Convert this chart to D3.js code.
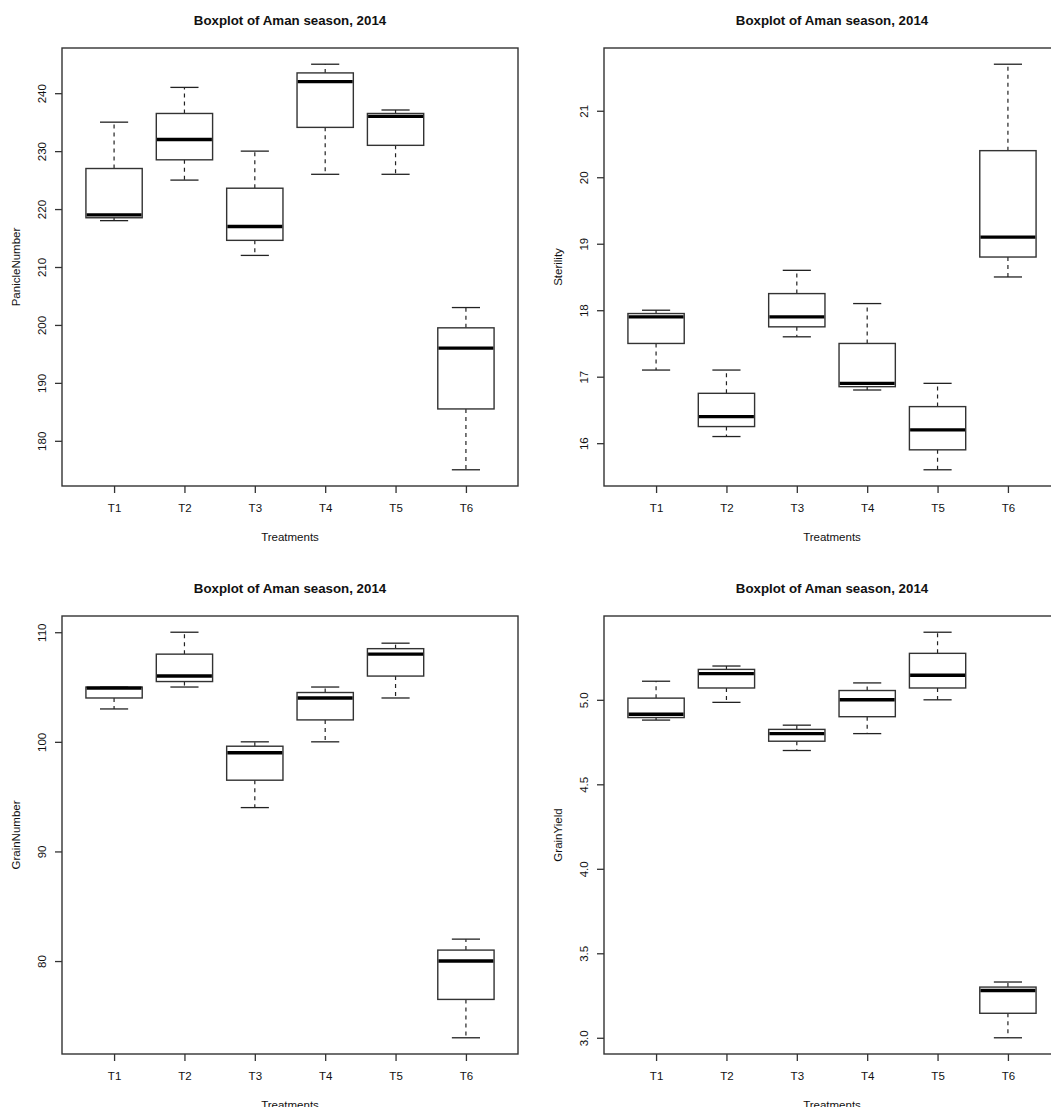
<!DOCTYPE html>
<html>
<head>
<meta charset="utf-8">
<script src="https://cdn.jsdelivr.net/npm/d3@7"></script>
<style>
  html, body { margin: 0; padding: 0; background: #fff; }
  svg { display: block; font-family: "Liberation Sans", Arial, sans-serif; }
</style>
</head>
<body>
<svg id="chart" width="1051" height="1107"></svg>
<script>
// ---- data: each box is [min, q1, median, q3, max] ----
const categories = ["T1", "T2", "T3", "T4", "T5", "T6"];

const panicleNumber = [
  [218, 218.5, 219, 227, 235],
  [225, 228.5, 232, 236.5, 241],
  [212, 214.6, 217, 223.6, 230],
  [226, 234.1, 242, 243.5, 245],
  [226, 231, 236, 236.5, 237.1],
  [175, 185.5, 196, 199.5, 203]
];
const sterility = [
  [17.1, 17.5, 17.9, 17.95, 18.0],
  [16.1, 16.25, 16.4, 16.75, 17.1],
  [17.6, 17.75, 17.9, 18.25, 18.6],
  [16.8, 16.85, 16.9, 17.5, 18.1],
  [15.6, 15.9, 16.2, 16.55, 16.9],
  [18.5, 18.8, 19.1, 20.4, 21.7]
];
const grainNumber = [
  [103, 104, 104.9, 105, 105],
  [105, 105.5, 106, 108, 110],
  [94, 96.5, 99, 99.6, 100],
  [100, 102, 104, 104.5, 105],
  [104, 106, 108, 108.5, 109],
  [73, 76.5, 80, 81, 82]
];
const grainYield = [
  [4.88, 4.895, 4.915, 5.01, 5.11],
  [4.985, 5.07, 5.155, 5.18, 5.2],
  [4.7, 4.755, 4.8, 4.825, 4.85],
  [4.8, 4.9, 5.0, 5.055, 5.1],
  [5.0, 5.07, 5.145, 5.275, 5.4],
  [3.0, 3.145, 3.28, 3.3, 3.33]
];

const panicleTicks = [180, 190, 200, 210, 220, 230, 240];
const sterilityTicks = [16, 17, 18, 19, 20, 21];
const grainNumberTicks = [80, 90, 100, 110];
const grainYieldTicks = [3.0, 3.5, 4.0, 4.5, 5.0];

const titleText = "Boxplot of Aman season, 2014";
const xLabel = "Treatments";

const panels = [
  { data: panicleNumber, ticks: panicleTicks, fmt: d3.format("d"), ylab: "PanicleNumber", left: 62, top: 48 },
  { data: sterility, ticks: sterilityTicks, fmt: d3.format("d"), ylab: "Sterility", left: 604, top: 48 },
  { data: grainNumber, ticks: grainNumberTicks, fmt: d3.format("d"), ylab: "GrainNumber", left: 62, top: 616 },
  { data: grainYield, ticks: grainYieldTicks, fmt: d3.format(".1f"), ylab: "GrainYield", left: 604, top: 616 }
];

const W = 456, H = 438;
const svg = d3.select("#chart");
const frameColor = "#333";
const textColor = "#111";

panels.forEach(p => {
  const g = svg.append("g").attr("transform", `translate(${p.left},${p.top})`);

  const n = categories.length;
  const x = d3.scaleLinear()
    .domain([0.5 - 0.04 * n, n + 0.5 + 0.04 * n])
    .range([0, W]);

  const all = p.data.flat();
  const [lo, hi] = d3.extent(all);
  const pad = (hi - lo) * 0.04;
  const y = d3.scaleLinear().domain([lo - pad, hi + pad]).range([H, 0]);

  // title
  g.append("text")
    .attr("x", W / 2).attr("y", -23)
    .attr("text-anchor", "middle")
    .attr("font-weight", "bold")
    .attr("font-size", 13.3)
    .attr("fill", textColor)
    .text(titleText);

  // boxes
  const half = x(1.4) - x(1);
  const staple = x(1.2) - x(1);
  const boxes = g.selectAll("g.box").data(p.data).enter().append("g").attr("class", "box");

  boxes.append("line") // lower whisker
    .attr("x1", (d, i) => x(i + 1)).attr("x2", (d, i) => x(i + 1))
    .attr("y1", d => y(d[1])).attr("y2", d => y(d[0]))
    .attr("stroke", "#222").attr("stroke-width", 1.2).attr("stroke-dasharray", "4,4");
  boxes.append("line") // upper whisker
    .attr("x1", (d, i) => x(i + 1)).attr("x2", (d, i) => x(i + 1))
    .attr("y1", d => y(d[3])).attr("y2", d => y(d[4]))
    .attr("stroke", "#222").attr("stroke-width", 1.2).attr("stroke-dasharray", "4,4");
  boxes.append("line") // lower staple
    .attr("x1", (d, i) => x(i + 1) - staple).attr("x2", (d, i) => x(i + 1) + staple)
    .attr("y1", d => y(d[0])).attr("y2", d => y(d[0]))
    .attr("stroke", "#222").attr("stroke-width", 1.3);
  boxes.append("line") // upper staple
    .attr("x1", (d, i) => x(i + 1) - staple).attr("x2", (d, i) => x(i + 1) + staple)
    .attr("y1", d => y(d[4])).attr("y2", d => y(d[4]))
    .attr("stroke", "#222").attr("stroke-width", 1.3);
  boxes.append("rect")
    .attr("x", (d, i) => x(i + 1) - half)
    .attr("width", 2 * half)
    .attr("y", d => y(d[3]))
    .attr("height", d => y(d[1]) - y(d[3]))
    .attr("fill", "#fff")
    .attr("stroke", frameColor).attr("stroke-width", 1.4);
  boxes.append("line") // median
    .attr("x1", (d, i) => x(i + 1) - half + 0.7).attr("x2", (d, i) => x(i + 1) + half - 0.7)
    .attr("y1", d => y(d[2])).attr("y2", d => y(d[2]))
    .attr("stroke", "#000").attr("stroke-width", 3.4);

  // frame
  g.append("rect")
    .attr("x", 0).attr("y", 0).attr("width", W).attr("height", H)
    .attr("fill", "none").attr("stroke", frameColor).attr("stroke-width", 1.4);

  // y axis
  const ya = g.append("g")
    .call(d3.axisLeft(y).tickValues(p.ticks).tickFormat(p.fmt).tickSize(7).tickSizeOuter(0));
  ya.select(".domain").remove();
  ya.selectAll(".tick line").attr("stroke", frameColor).attr("stroke-width", 1.3);
  ya.selectAll(".tick text")
    .attr("x", null).attr("dy", null)
    .attr("transform", "translate(-16,0) rotate(-90)")
    .attr("text-anchor", "middle")
    .attr("font-size", 11.5)
    .attr("font-family", "Liberation Sans, Arial, sans-serif")
    .attr("fill", textColor);

  // x axis
  const xa = g.append("g").attr("transform", `translate(0,${H})`)
    .call(d3.axisBottom(x).tickValues(d3.range(1, n + 1)).tickFormat(d => categories[d - 1]).tickSize(7).tickSizeOuter(0));
  xa.select(".domain").remove();
  xa.selectAll(".tick line").attr("stroke", frameColor).attr("stroke-width", 1.3);
  xa.selectAll(".tick text")
    .attr("y", 26.3).attr("dy", null)
    .attr("font-size", 11.5)
    .attr("font-family", "Liberation Sans, Arial, sans-serif")
    .attr("fill", textColor);

  // axis labels
  g.append("text")
    .attr("x", W / 2).attr("y", H + 55)
    .attr("text-anchor", "middle")
    .attr("font-size", 11.5)
    .attr("fill", textColor)
    .text(xLabel);
  g.append("text")
    .attr("transform", `translate(-42.5,${H / 2}) rotate(-90)`)
    .attr("text-anchor", "middle")
    .attr("font-size", 11.5)
    .attr("fill", textColor)
    .text(p.ylab);
});
</script>
</body>
</html>
